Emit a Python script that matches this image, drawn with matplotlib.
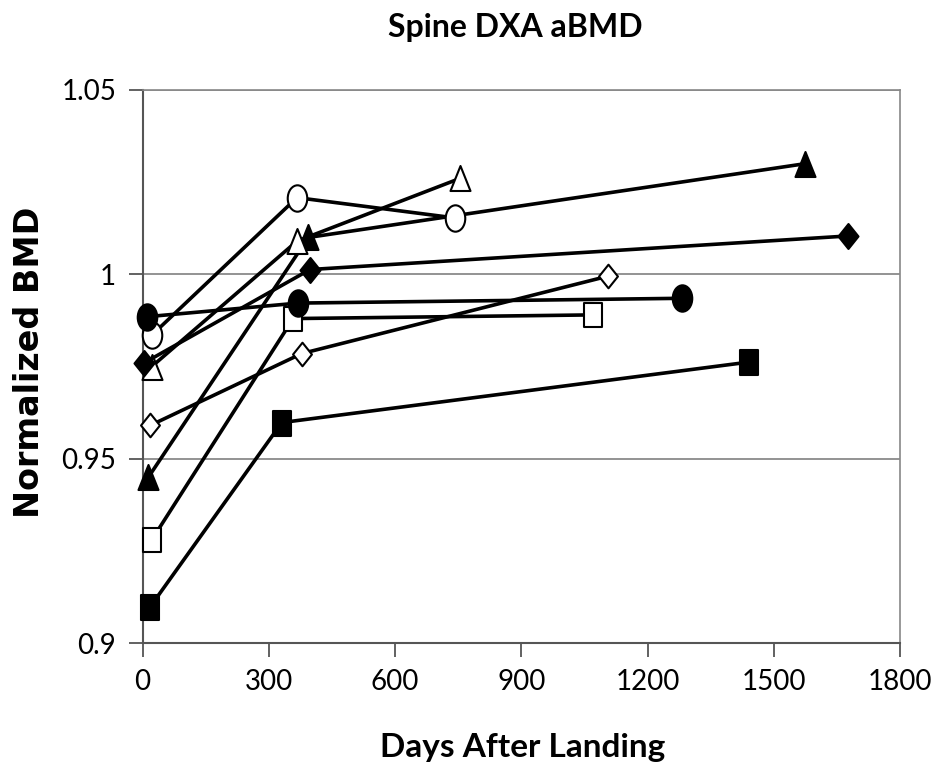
import matplotlib
matplotlib.use('Agg')
import matplotlib.pyplot as plt
import numpy as np
from matplotlib.path import Path

# days after landing / normalized BMD, one list per crew member
days_filled_circle = [10, 370, 1282]
bmd_filled_circle = [0.9885, 0.9922, 0.9935]
days_open_circle = [22, 367, 742]
bmd_open_circle = [0.9835, 1.0208, 1.0153]
days_filled_diamond = [4, 398, 1676]
bmd_filled_diamond = [0.976, 1.0013, 1.0104]
days_open_triangle = [22, 367, 754]
bmd_open_triangle = [0.975, 1.009, 1.026]
days_open_diamond = [18, 378, 1106]
bmd_open_diamond = [0.959, 0.9785, 0.9995]
days_filled_triangle = [14, 394, 1574]
bmd_filled_triangle = [0.945, 1.010, 1.030]
days_open_square = [22, 358, 1071]
bmd_open_square = [0.928, 0.988, 0.989]
days_filled_square = [18, 331, 1441]
bmd_filled_square = [0.9098, 0.9598, 0.9762]

xticks = [0, 300, 600, 900, 1200, 1500, 1800]
yticks = [0.9, 0.95, 1.0, 1.05]
yticklabels = ['0.9', '0.95', '1', '1.05']

# markers in the original are a bit taller than wide
circ = Path.unit_circle()
ellipse = Path(circ.vertices * [0.74, 1.0], circ.codes)
tall_square = Path([(-0.37, -0.5), (0.37, -0.5), (0.37, 0.5), (-0.37, 0.5), (0, 0)],
                   [Path.MOVETO, Path.LINETO, Path.LINETO, Path.LINETO, Path.CLOSEPOLY])
tall_tri = Path([(-0.4, -0.5), (0.4, -0.5), (0, 0.5), (0, 0)],
                [Path.MOVETO, Path.LINETO, Path.LINETO, Path.CLOSEPOLY])
tall_diamond = Path([(0, -0.5), (0.4, 0), (0, 0.5), (-0.4, 0), (0, 0)],
                    [Path.MOVETO, Path.LINETO, Path.LINETO, Path.LINETO, Path.CLOSEPOLY])

fig = plt.figure(figsize=(9.39, 7.69), dpi=100)
ax = fig.add_axes([0.1518, 0.1638, 0.8067, 0.7192])

series = [
    (days_filled_square, bmd_filled_square, tall_square, 'black', 18),
    (days_open_square, bmd_open_square, tall_square, 'white', 17),
    (days_filled_triangle, bmd_filled_triangle, tall_tri, 'black', 18),
    (days_open_diamond, bmd_open_diamond, tall_diamond, 'white', 17),
    (days_open_triangle, bmd_open_triangle, tall_tri, 'white', 18),
    (days_filled_diamond, bmd_filled_diamond, tall_diamond, 'black', 18),
    (days_open_circle, bmd_open_circle, ellipse, 'white', 19),
    (days_filled_circle, bmd_filled_circle, ellipse, 'black', 19),
]
for d, b, m, fc, ms in series:
    ax.plot(d, b, color='black', lw=2.6, marker=m, markersize=ms,
            markerfacecolor=fc, markeredgecolor='black', markeredgewidth=1.5,
            clip_on=False, zorder=3)

ax.set_xlim(0, 1800)
ax.set_ylim(0.9, 1.05)
ax.set_xticks(xticks)
ax.set_yticks(yticks)
ax.set_yticklabels(yticklabels)
ax.yaxis.grid(True, color='#808080', lw=1.2)
ax.set_axisbelow(True)
for s in ['left', 'bottom']:
    ax.spines[s].set_color('#555555')
    ax.spines[s].set_linewidth(1.5)
for s in ['top', 'right']:
    ax.spines[s].set_color('#888888')
    ax.spines[s].set_linewidth(1.2)
ax.tick_params(axis='both', direction='out', length=10, width=1.3, color='#555555',
               labelsize=20, pad=9)

for lab in ax.get_xticklabels() + ax.get_yticklabels():
    lab.set_family('Lato')

fig.text(515 / 939, 1 - 37 / 769, 'Spine DXA aBMD', fontsize=23, fontweight='bold',
         family='Lato', ha='center', va='baseline')
fig.text(523 / 939, 1 - 757 / 769, 'Days After Landing', fontsize=24, fontweight='bold',
         family='Lato', ha='center', va='baseline')
fig.text(30 / 939, 1 - 362 / 769, 'Normalized BMD', fontsize=24, fontweight='bold',
         rotation=90, ha='center', va='center')

fig.savefig('out.png', dpi=100)
